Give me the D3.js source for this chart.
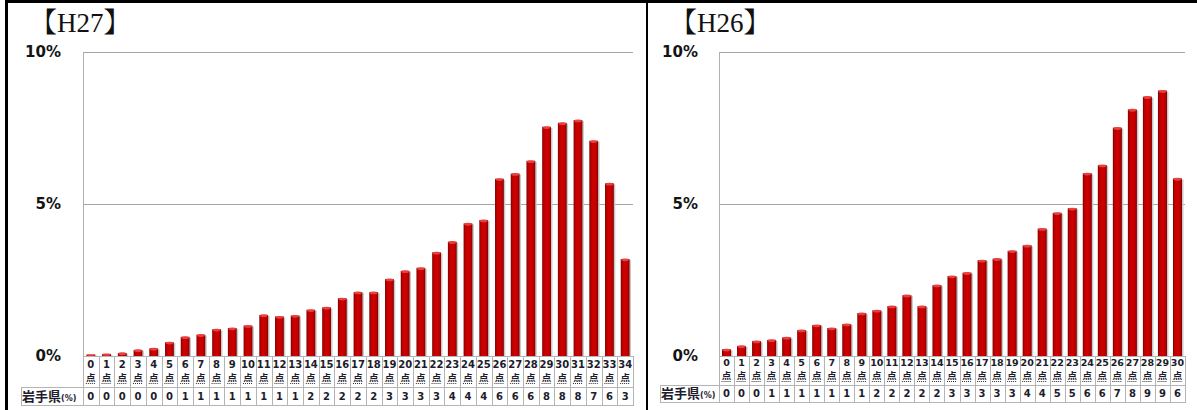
<!DOCTYPE html>
<html lang="ja">
<head>
  <meta charset="UTF-8" />
  <title>岩手県 得点分布 H27 / H26</title>
  <script src="https://d3js.org/d3.v7.min.js"></script>
  <style>
    body { margin: 0; background: #fff; }
    svg { display: block; }
    .tick-label { font: bold 15px 'DejaVu Sans', Verdana, sans-serif; fill: #141414; }
    .cell { font: bold 10px 'DejaVu Sans', Verdana, sans-serif; fill: #1c1c2c; }
    .title { font: 27px 'Liberation Serif', 'Noto Serif CJK JP', 'Noto Sans CJK JP', serif; fill: #111; }
  </style>
</head>
<body>
<div id="chart"></div>
<script>
  // H27 (left panel)
  const pointsH27 = [0,1,2,3,4,5,6,7,8,9,10,11,12,13,14,15,16,17,18,19,20,21,22,23,24,25,26,27,28,29,30,31,32,33,34];
  const pctH27 = [0.05,0.07,0.1,0.2,0.25,0.45,0.63,0.7,0.88,0.92,1.0,1.35,1.3,1.33,1.52,1.6,1.9,2.1,2.1,2.53,
                  2.8,2.9,3.41,3.76,4.36,4.47,5.83,6.0,6.42,7.54,7.67,7.76,7.08,5.68,3.19];
  const tableH27 = [0,0,0,0,0,0,1,1,1,1,1,1,1,1,2,2,2,2,2,3,3,3,3,4,4,4,6,6,6,8,8,8,7,6,3];

  // H26 (right panel)
  const pointsH26 = [0,1,2,3,4,5,6,7,8,9,10,11,12,13,14,15,16,17,18,19,20,21,22,23,24,25,26,27,28,29,30];
  const pctH26 = [0.22,0.33,0.49,0.53,0.61,0.85,1.02,0.92,1.05,1.41,1.5,1.64,2.0,1.64,2.33,2.63,2.74,3.15,3.2,3.46,
                  3.64,4.19,4.71,4.86,6.01,6.28,7.51,8.11,8.53,8.73,5.84];
  const tableH26 = [0,0,0,1,1,1,1,1,1,1,2,2,2,2,2,3,3,3,3,3,4,4,5,5,6,6,7,8,9,9,6];

  const yTicks = [0, 5, 10];
  const rowLabel = "岩手県";

  const W = 1197, H = 410;
  const svg = d3.select("#chart").append("svg")
    .attr("width", W).attr("height", H);

  const defs = svg.append("defs");
  const grad = defs.append("linearGradient").attr("id", "barGrad")
    .attr("x1", "0%").attr("x2", "100%").attr("y1", "0%").attr("y2", "0%");
  [["0%", "#7a0000"], ["18%", "#bb0000"], ["50%", "#d00000"], ["82%", "#bb0000"], ["100%", "#7a0000"]]
    .forEach(([o, c]) => grad.append("stop").attr("offset", o).attr("stop-color", c));

  function drawPanel(cfg) {
    const g = svg.append("g");
    const x = d3.scaleBand().domain(cfg.points).range([cfg.x0, cfg.x1]).paddingInner(cfg.pad).paddingOuter(cfg.pad / 2);
    const step = (cfg.x1 - cfg.x0) / cfg.points.length;
    const y = d3.scaleLinear().domain([0, 10]).range([356, 52]);

    g.append("text").attr("class", "title")
      .attr("x", cfg.titleX).attr("y", 32).text(cfg.title);

    // gridlines
    g.append("g")
      .attr("transform", `translate(${cfg.x0},0)`)
      .call(d3.axisLeft(y).tickValues(yTicks.filter(d => d > 0)).tickSize(-(cfg.x1 - cfg.x0)).tickFormat(""))
      .call(s => s.select(".domain").remove())
      .call(s => s.selectAll("line").attr("stroke", "#a6a6a6"));

    // left axis line
    g.append("line")
      .attr("x1", cfg.x0 + 0.5).attr("x2", cfg.x0 + 0.5)
      .attr("y1", y(10)).attr("y2", y(0))
      .attr("stroke", "#b0b0b0");

    // tick labels
    g.selectAll(".tick-label").data(yTicks).join("text")
      .attr("class", "tick-label")
      .attr("x", cfg.labelRight).attr("y", d => y(d))
      .attr("dy", "0.36em").attr("text-anchor", "end")
      .text(d => d + "%");

    // bars: shadow, body, top cap
    const bars = g.append("g");
    bars.selectAll(".shadow").data(cfg.values).join("rect")
      .attr("x", (d, i) => x(cfg.points[i]) + 1.5)
      .attr("y", d => y(d) + 1)
      .attr("width", x.bandwidth())
      .attr("height", d => y(0) - y(d) - 1)
      .attr("fill", "#c8c8c8");
    bars.selectAll(".bar").data(cfg.values).join("rect")
      .attr("x", (d, i) => x(cfg.points[i]))
      .attr("y", d => y(d))
      .attr("width", x.bandwidth())
      .attr("height", d => y(0) - y(d))
      .attr("fill", "url(#barGrad)");
    bars.selectAll(".cap").data(cfg.values).join("ellipse")
      .attr("cx", (d, i) => x(cfg.points[i]) + x.bandwidth() / 2)
      .attr("cy", d => y(d) + 0.8)
      .attr("rx", x.bandwidth() / 2 - 0.5)
      .attr("ry", d => Math.min(1.4, (y(0) - y(d)) / 2))
      .attr("fill", "#e84040");

    // table
    const t = cfg.table;
    const tg = g.append("g");
    const lineCol = "#b4b4b4";
    [[cfg.x0, t.top], [cfg.labelX, t.mid], [cfg.labelX, t.bottom]].forEach(([xa, yy]) => {
      tg.append("line").attr("x1", xa).attr("x2", cfg.x1).attr("y1", yy + 0.5).attr("y2", yy + 0.5)
        .attr("stroke", lineCol);
    });
    cfg.points.concat(["end"]).forEach((p, i) => {
      const xx = Math.round(cfg.x0 + i * step) + 0.5;
      tg.append("line").attr("x1", xx).attr("x2", xx).attr("y1", t.top).attr("y2", t.bottom + 1)
        .attr("stroke", lineCol);
    });
    tg.append("line").attr("x1", cfg.labelX + 0.5).attr("x2", cfg.labelX + 0.5)
      .attr("y1", t.mid).attr("y2", t.bottom + 1).attr("stroke", lineCol);

    const cx = (d, i) => cfg.x0 + (i + 0.5) * step;
    tg.selectAll(".num").data(cfg.points).join("text")
      .attr("class", "cell").attr("x", cx).attr("y", t.numY)
      .attr("text-anchor", "middle").style("font-size", cfg.fs + "px").text(d => d);
    tg.selectAll(".pt").data(cfg.points).join("text")
      .attr("class", "cell").attr("x", cx).attr("y", t.ptY)
      .attr("text-anchor", "middle")
      .style("font-family", "'Noto Sans CJK JP', sans-serif").style("font-size", "9.5px")
      .text("点");
    tg.selectAll(".dot").data(cfg.points).join("line")
      .attr("x1", (d, i) => cx(d, i) - 5).attr("x2", (d, i) => cx(d, i) + 5)
      .attr("y1", t.ptY + 2.5).attr("y2", t.ptY + 2.5)
      .attr("stroke", "#333").attr("stroke-width", 1).attr("stroke-dasharray", "1,1");
    tg.selectAll(".val").data(cfg.rowValues).join("text")
      .attr("class", "cell").attr("x", cx).attr("y", t.valY)
      .attr("text-anchor", "middle").text(d => d);

    const lab = tg.append("text").attr("class", "cell")
      .attr("x", cfg.labelX + 1).attr("y", t.valY + 1);
    lab.append("tspan").style("font-family", "'Noto Sans CJK JP', sans-serif")
      .style("font-size", "13px").style("font-weight", "bold").text(rowLabel);
    lab.append("tspan").style("font-size", "8px").text("(%)");
  }

  drawPanel({
    title: "【H27】", titleX: 30, points: pointsH27, values: pctH27, rowValues: tableH27,
    x0: 83, x1: 633, pad: 0.44, labelRight: 61, labelX: 21, fs: 10,
    table: { top: 356, mid: 387, bottom: 405, numY: 368, ptY: 381, valY: 400 }
  });
  drawPanel({
    title: "【H26】", titleX: 670, points: pointsH26, values: pctH26, rowValues: tableH26,
    x0: 719, x1: 1185, pad: 0.4, labelRight: 698, labelX: 660, fs: 9.5,
    table: { top: 356, mid: 385, bottom: 402, numY: 366, ptY: 379, valY: 397 }
  });

  // outer frame
  svg.append("line").attr("x1", 5).attr("x2", W).attr("y1", 1.5).attr("y2", 1.5)
    .attr("stroke", "#000").attr("stroke-width", 3);
  svg.append("line").attr("x1", 6.5).attr("x2", 6.5).attr("y1", 0).attr("y2", H)
    .attr("stroke", "#000").attr("stroke-width", 3);
  svg.append("line").attr("x1", 647).attr("x2", 647).attr("y1", 0).attr("y2", H)
    .attr("stroke", "#000").attr("stroke-width", 2);
</script>
</body>
</html>
